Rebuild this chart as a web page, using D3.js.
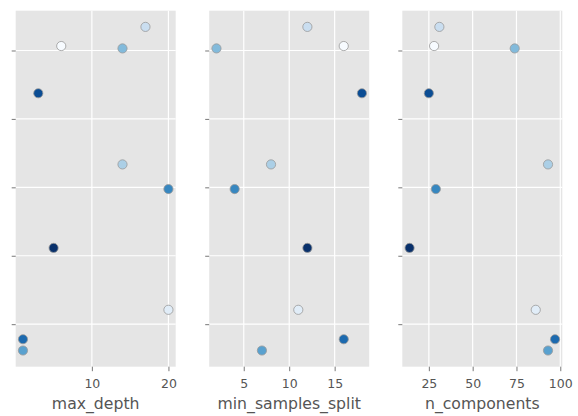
<!DOCTYPE html>
<html>
<head>
<meta charset="utf-8">
<script src="https://cdn.jsdelivr.net/npm/d3@7"></script>
<style>
  body { margin: 0; background: #fff; }
  svg { display: block; font-family: "DejaVu Sans", sans-serif; }
</style>
</head>
<body>
<script>
// trials 0..9, objective value on y, colour by trial number
const trials = [0, 1, 2, 3, 4, 5, 6, 7, 8, 9];
const objective = [0.9013, 0.8242, 0.9069, 0.8667, 0.9006, 0.8123, 0.8595, 0.8156, 0.8875, 0.8423];
const maxDepth = [6, 20, 17, 14, 14, 1, 20, 1, 3, 5];
const minSamplesSplit = [16, 11, 12, 8, 2, 7, 4, 16, 18, 12];
const nComponents = [28, 86, 31, 93, 74, 93, 29, 97, 25, 14];

const params = ["max_depth", "min_samples_split", "n_components"];
const paramValues = [maxDepth, minSamplesSplit, nComponents];
const xTicks = [[10, 20], [5, 10, 15], [25, 50, 75, 100]];
const yTicks = [0.82, 0.84, 0.86, 0.88, 0.90];

const width = 578, height = 416;
const panelLeft = [15.7, 209.2, 402.3];
const panelW = 160;
const plotTop = 10.7, plotBottom = 366.7;

const svg = d3.select(document.body).append("svg")
    .attr("width", width)
    .attr("height", height);

// matplotlib-like 5% margins
function padded(vals) {
    const [a, b] = d3.extent(vals);
    const m = (b - a) * 0.05;
    return [a - m, b + m];
}

const y = d3.scaleLinear().domain(padded(objective)).range([plotBottom, plotTop]);
const color = d3.scaleSequential(d3.interpolateBlues).domain([0, trials.length - 1]);

params.forEach((name, i) => {
    const vals = paramValues[i];
    const x = d3.scaleLinear().domain(padded(vals)).range([panelLeft[i], panelLeft[i] + panelW]);

    const g = svg.append("g");
    g.append("rect")
        .attr("x", panelLeft[i]).attr("y", plotTop)
        .attr("width", panelW).attr("height", plotBottom - plotTop)
        .attr("fill", "#e5e5e5");

    // grid
    g.append("g").selectAll("line").data(xTicks[i]).join("line")
        .attr("x1", d => x(d)).attr("x2", d => x(d))
        .attr("y1", plotTop).attr("y2", plotBottom)
        .attr("stroke", "#fff").attr("stroke-width", 1.2);
    g.append("g").selectAll("line").data(yTicks).join("line")
        .attr("x1", panelLeft[i]).attr("x2", panelLeft[i] + panelW)
        .attr("y1", d => y(d)).attr("y2", d => y(d))
        .attr("stroke", "#fff").attr("stroke-width", 1.2);

    // axes
    const xa = g.append("g")
        .attr("transform", `translate(0,${plotBottom})`)
        .call(d3.axisBottom(x).tickValues(xTicks[i]).tickSize(4.5).tickPadding(8));
    xa.select(".domain").remove();
    xa.selectAll("line").attr("stroke", "#555").attr("stroke-width", 0.8);
    xa.selectAll("text").attr("fill", "#555").attr("font-size", 12.5)
        .attr("font-family", "DejaVu Sans");

    const ya = g.append("g")
        .attr("transform", `translate(${panelLeft[i]},0)`)
        .call(d3.axisLeft(y).tickValues(yTicks).tickSize(4).tickFormat(""));
    ya.select(".domain").remove();
    ya.selectAll("line").attr("stroke", "#555").attr("stroke-width", 0.8);

    g.append("text")
        .attr("x", panelLeft[i] + panelW / 2)
        .attr("y", 408.5)
        .attr("text-anchor", "middle")
        .attr("fill", "#555")
        .attr("font-size", 15.7)
        .text(name);

    g.append("g").selectAll("circle").data(trials).join("circle")
        .attr("cx", t => x(vals[t]))
        .attr("cy", t => y(objective[t]))
        .attr("r", 4.6)
        .attr("fill", t => color(t))
        .attr("stroke", "#999")
        .attr("stroke-width", 0.8);
});
</script>
</body>
</html>
